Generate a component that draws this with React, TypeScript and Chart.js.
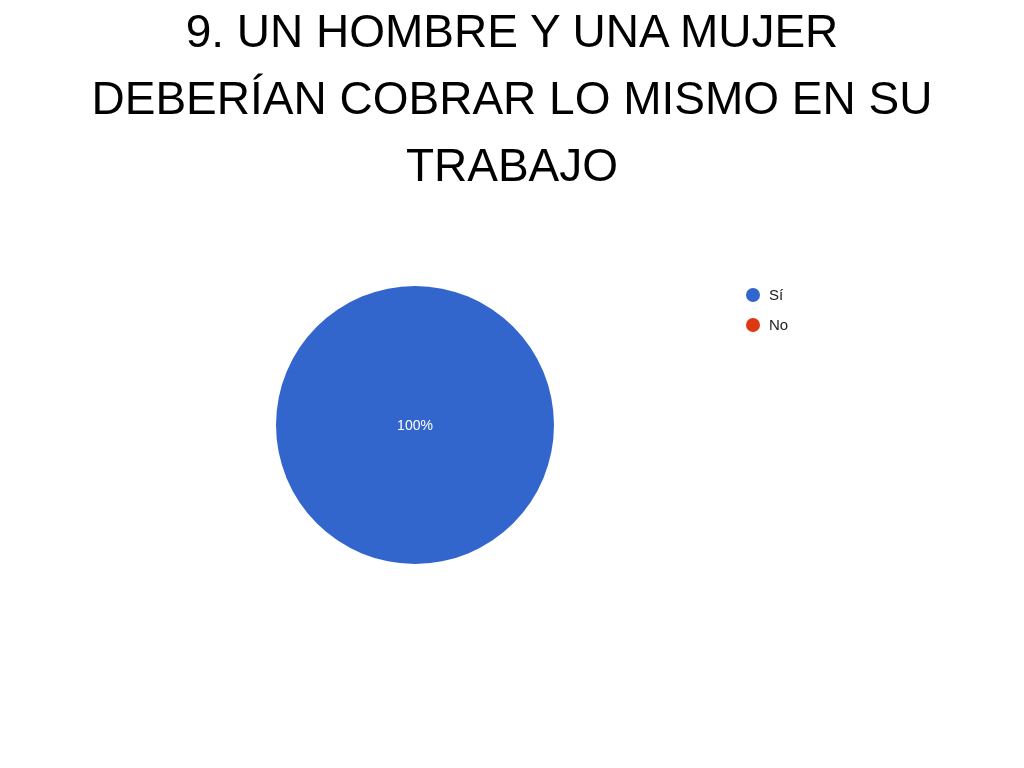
import React, { useEffect, useRef } from "react";
import { Chart, registerables } from "chart.js";

Chart.register(...registerables);

const titleLines = ["9. UN HOMBRE Y UNA MUJER", "DEBERÍAN COBRAR LO MISMO EN SU", "TRABAJO"];
const categories = ["Sí", "No"];
const values = [100, 0];
const colors = ["#3366CC", "#DC3912"];

const overlayPlugin = {
  id: "overlay",
  afterDraw(chart: any) {
    const ctx = chart.ctx;
    const meta = chart.getDatasetMeta(0);
    const ds = chart.data.datasets[0];
    const total = (ds.data as number[]).reduce((a: number, b: number) => a + b, 0);
    ctx.save();
    meta.data.forEach((arc: any, i: number) => {
      const v = ds.data[i] as number;
      if (!v) return;
      const pct = Math.round((v / total) * 100) + "%";
      let x: number, y: number;
      if (v === total) {
        x = arc.x;
        y = arc.y;
      } else {
        const p = arc.tooltipPosition();
        x = p.x;
        y = p.y;
      }
      ctx.fillStyle = "#ffffff";
      ctx.font = "14px Arial, 'Liberation Sans', sans-serif";
      ctx.textAlign = "center";
      ctx.textBaseline = "middle";
      ctx.fillText(pct, x, y + 1);
    });
    const lx = 753;
    const ly = 295;
    const step = 30;
    (chart.data.labels as string[]).forEach((lab: string, i: number) => {
      const y = ly + i * step;
      ctx.beginPath();
      ctx.arc(lx, y, 7, 0, Math.PI * 2);
      ctx.fillStyle = (ds.backgroundColor as string[])[i];
      ctx.fill();
      ctx.fillStyle = "#222222";
      ctx.font = "15px Arial, 'Liberation Sans', sans-serif";
      ctx.textAlign = "left";
      ctx.textBaseline = "middle";
      ctx.fillText(lab, lx + 16, y + 1);
    });
    ctx.restore();
  },
};

export default function App() {
  const ref = useRef<HTMLCanvasElement | null>(null);
  useEffect(() => {
    if (!ref.current) return;
    const chart = new Chart(ref.current, {
      type: "pie",
      data: {
        labels: categories,
        datasets: [
          {
            data: values,
            backgroundColor: colors,
            borderWidth: 0,
          },
        ],
      },
      options: {
        animation: false,
        responsive: false,
        layout: { padding: { left: 276, right: 470, top: 286, bottom: 204 } },
        plugins: {
          legend: { display: false },
          tooltip: { enabled: false },
          title: { display: false },
        },
      },
      plugins: [overlayPlugin],
    });
    return () => chart.destroy();
  }, []);
  return (
    <div style={{ position: "absolute", left: 0, top: 0, width: 1024, height: 768, background: "#fff" }}>
      <canvas ref={ref} width={1024} height={768} style={{ position: "absolute", left: 0, top: 0, width: 1024, height: 768 }} />
      <div
        style={{
          position: "absolute",
          left: 0,
          top: -2,
          width: 1024,
          textAlign: "center",
          fontFamily: "'Liberation Sans', Arial, sans-serif",
          fontSize: 46,
          lineHeight: "67px",
          color: "#000",
        }}
      >
        {titleLines.map((l, i) => (
          <div key={i}>{l}</div>
        ))}
      </div>
    </div>
  );
}
